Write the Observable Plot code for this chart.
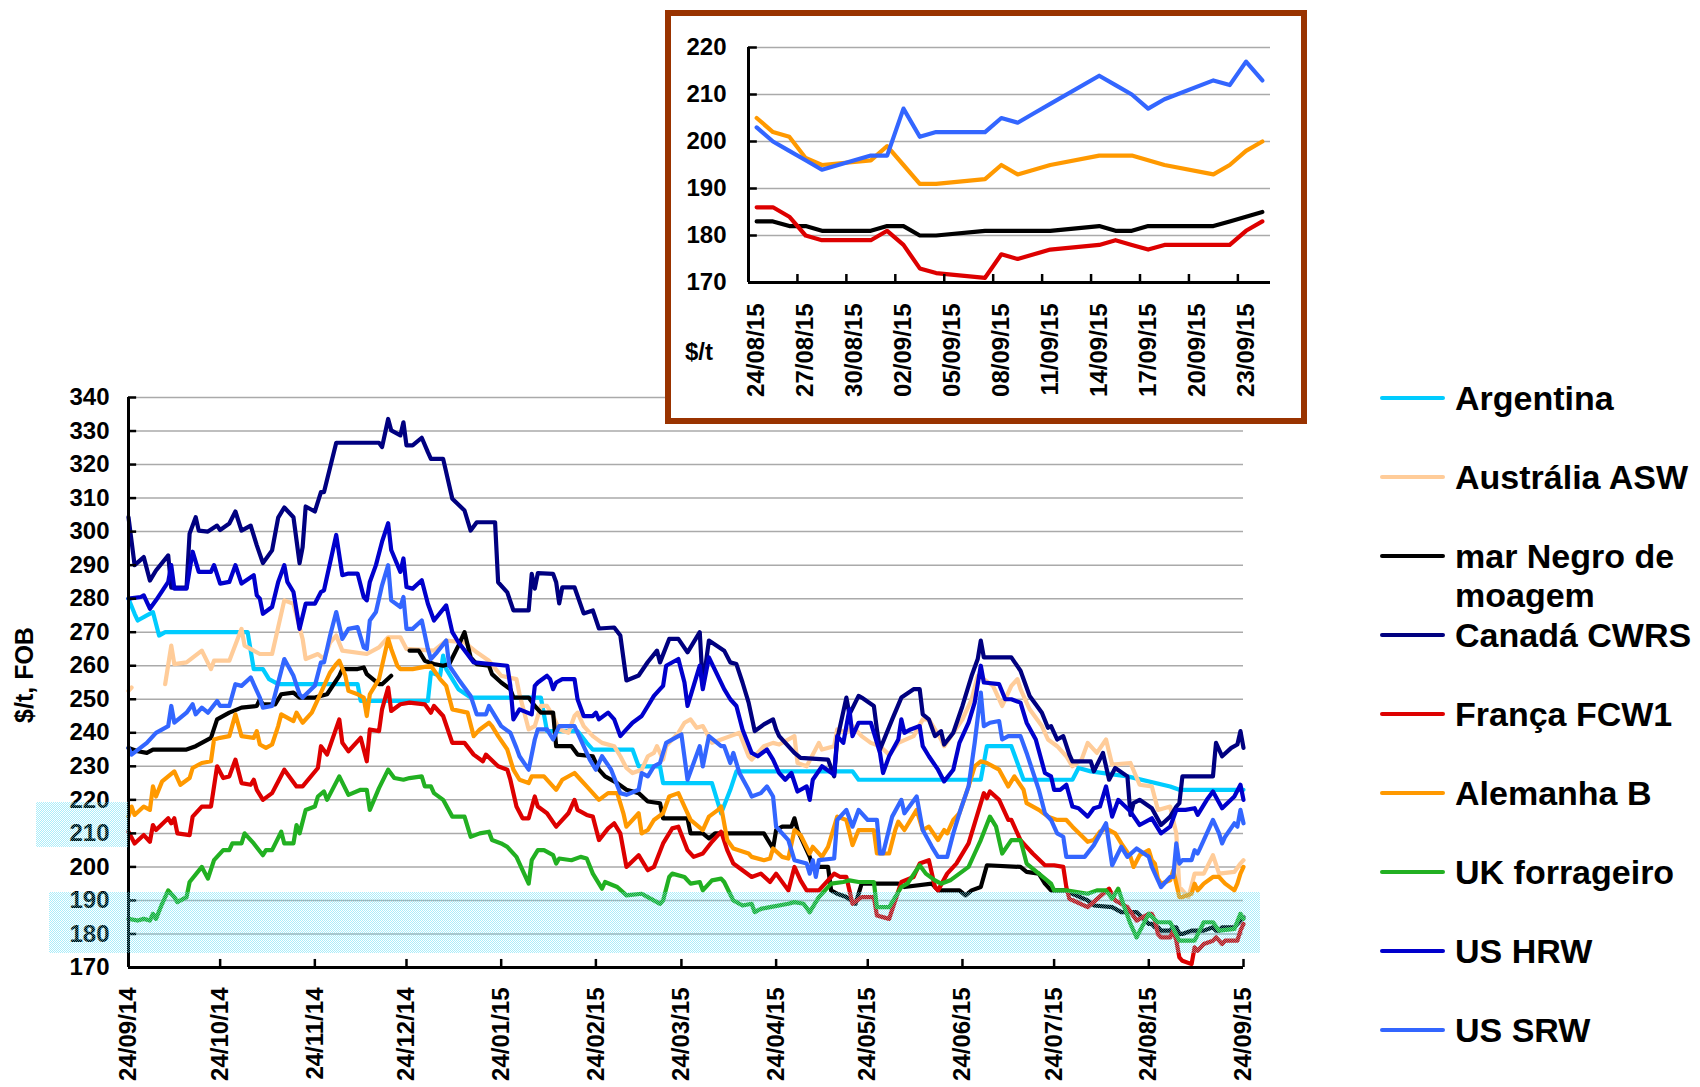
<!DOCTYPE html>
<html lang="pt">
<head>
<meta charset="utf-8">
<script src="https://cdn.jsdelivr.net/npm/d3@7"></script>
<script src="https://cdn.jsdelivr.net/npm/@observablehq/plot@0.6"></script>
<style>
html,body{margin:0;padding:0;background:#fff;}
#page{position:relative;width:1700px;height:1087px;overflow:hidden;background:#fff;font-family:"Liberation Sans",Arial,Helvetica,sans-serif;font-weight:bold;color:#000;}
#main{position:absolute;left:0;top:380px;}
#inset{position:absolute;left:665px;top:10px;width:642px;height:414px;box-sizing:border-box;border:6px solid #993300;background:#fff;}
#inset-plot{position:absolute;left:0;top:0;}
#inset-unit{position:absolute;left:14px;top:324px;font-size:24px;line-height:24px;white-space:nowrap;}
#ylab{position:absolute;left:24px;top:675px;width:0;height:0;}
#ylab span{position:absolute;left:0;top:0;display:block;font-size:25px;line-height:25px;white-space:nowrap;transform:translate(-50%,-50%) rotate(-90deg);}
#legend{position:absolute;left:1380px;top:378.5px;}
.item{position:relative;height:79px;width:320px;}
.item .swatch{position:absolute;left:0;top:17.5px;width:65px;height:4px;border-radius:2px;}
.item .label{position:absolute;left:75px;top:0;font-size:34px;line-height:39px;white-space:pre;}
.band{position:absolute;pointer-events:none;background:repeating-conic-gradient(rgba(100,222,245,.55) 0 25%, transparent 0 50%) 0 0/2px 2px;}
</style>
</head>
<body>
<div id="page">
  <div id="main"></div>
  <div id="ylab"><span>$/t, FOB</span></div>
  <div id="inset"><div id="inset-plot"></div><div id="inset-unit">$/t</div></div>
  <div id="legend"></div>
  <div class="band" style="left:36px;top:802px;width:92px;height:45px;"></div>
  <div class="band" style="left:49px;top:892px;width:1211px;height:61px;"></div>
</div>
<script>
// ---------- series names & colours (legend order) ----------
const seriesNames = ["Argentina", "Austrália ASW", "mar Negro de\nmoagem", "Canadá CWRS", "França FCW1", "Alemanha B", "UK forrageiro", "US HRW", "US SRW"];
const seriesColors = ["#00CCFF", "#FFCC99", "#000000", "#000080", "#DD0000", "#FF9900", "#22B022", "#0000CC", "#3366FF"];

// ---------- axis ticks ----------
const mainYTicks = [170,180,190,200,210,220,230,240,250,260,270,280,290,300,310,320,330,340];
const mainXTickLabels = ["24/09/14","24/10/14","24/11/14","24/12/14","24/01/15","24/02/15","24/03/15","24/04/15","24/05/15","24/06/15","24/07/15","24/08/15","24/09/15"];
const insetYTicks = [170,180,190,200,210,220];
const insetXTickLabels = ["24/08/15","27/08/15","30/08/15","02/09/15","05/09/15","08/09/15","11/09/15","14/09/15","17/09/15","20/09/15","23/09/15"];

// ---------- main chart data ($/t FOB) ----------
const argentina = [["24/09/14",280],["26/09/14",275.5],["27/09/14",273.5],["30/09/14",275],["02/10/14",276],["04/10/14",269],["06/10/14",270],["02/11/14",270],["04/11/14",259],["07/11/14",259],["09/11/14",256],["12/11/14",254.5],["08/12/14",254.5],["09/12/14",249.5],["31/12/14",249.5],["01/01/15",258],["04/01/15",257],["05/01/15",263],["06/01/15",259],["10/01/15",253],["14/01/15",250.5],["06/02/15",250.5],["08/02/15",240.5],["18/02/15",240.5],["21/02/15",237],["23/02/15",235],["08/03/15",235],["10/03/15",230],["17/03/15",230],["18/03/15",225],["03/04/15",225],["06/04/15",216],["09/04/15",223],["11/04/15",228.5],["19/05/15",228.5],["21/05/15",226],["30/06/15",226],["02/07/15",236],["10/07/15",236],["14/07/15",226],["30/07/15",226],["01/08/15",229.5],["05/08/15",228.5],["17/08/15",227],["31/08/15",224],["03/09/15",223],["24/09/15",223]];

const australiaASW = [["24/09/14",252.5],["25/09/14",253.5],["26/09/14",null],["06/10/14",254.5],["08/10/14",266],["09/10/14",260.5],["13/10/14",261],["18/10/14",264.5],["21/10/14",259],["22/10/14",261.5],["27/10/14",261.5],["31/10/14",271],["01/11/14",266],["06/11/14",263.5],["10/11/14",263.5],["14/11/14",279.5],["17/11/14",278.5],["20/11/14",268],["21/11/14",262],["25/11/14",263.5],["27/11/14",262],["29/11/14",267],["01/12/14",269],["03/12/14",264.5],["11/12/14",263.5],["15/12/14",265.5],["18/12/14",268.5],["22/12/14",268.5],["24/12/14",265],["02/01/15",264.5],["06/01/15",267.5],["12/01/15",267],["16/01/15",264],["20/01/15",261.5],["24/01/15",257],["29/01/15",256],["30/01/15",251.5],["02/02/15",241],["04/02/15",242],["06/02/15",248],["08/02/15",248],["10/02/15",245],["12/02/15",241],["15/02/15",240],["17/02/15",245],["18/02/15",246],["20/02/15",242],["23/02/15",239],["26/02/15",237],["02/03/15",236],["04/03/15",233],["06/03/15",229.5],["08/03/15",228],["11/03/15",229],["13/03/15",233],["15/03/15",234],["16/03/15",236],["18/03/15",232],["19/03/15",236],["23/03/15",240],["25/03/15",243],["27/03/15",244],["29/03/15",241.5],["31/03/15",242],["03/04/15",237],["06/04/15",238],["09/04/15",239],["12/04/15",240],["15/04/15",233],["16/04/15",232],["20/04/15",236],["23/04/15",237],["25/04/15",236.5],["30/04/15",239],["01/05/15",231],["04/05/15",230],["08/05/15",237],["09/05/15",235],["13/05/15",236],["14/05/15",241],["17/05/15",240],["19/05/15",242],["22/05/15",239],["25/05/15",237],["28/05/15",236],["31/05/15",233.5],["03/06/15",237],["08/06/15",239],["11/06/15",244],["13/06/15",244],["17/06/15",238],["18/06/15",236],["21/06/15",240],["24/06/15",244],["27/06/15",250],["29/06/15",257],["01/07/15",256],["04/07/15",254],["07/07/15",248],["10/07/15",254],["12/07/15",256],["13/07/15",253],["16/07/15",247],["20/07/15",242],["22/07/15",238],["25/07/15",236],["28/07/15",233],["30/07/15",230],["02/08/15",232],["04/08/15",237],["07/08/15",234],["10/08/15",238],["12/08/15",230.5],["18/08/15",231],["21/08/15",224.5],["25/08/15",224],["27/08/15",217],["31/08/15",218],["02/09/15",210],["03/09/15",194],["06/09/15",191],["08/09/15",198],["11/09/15",198],["14/09/15",203.5],["16/09/15",198],["21/09/15",198.5],["23/09/15",201],["24/09/15",202]];

const marNegro = [["24/09/14",235.5],["27/09/14",234.5],["30/09/14",234],["02/10/14",235],["13/10/14",235],["16/10/14",236],["21/10/14",238.5],["23/10/14",244],["27/10/14",246],["31/10/14",247.5],["05/11/14",248],["06/11/14",250],["07/11/14",248.5],["11/11/14",248.5],["13/11/14",251.5],["17/11/14",252],["19/11/14",250.5],["24/11/14",250.5],["28/11/14",251.5],["02/12/14",257],["03/12/14",259],["08/12/14",259],["10/12/14",259.5],["11/12/14",257.5],["15/12/14",254.5],["16/12/14",254.5],["19/12/14",257],["20/12/14",null],["25/12/14",264.5],["28/12/14",264.5],["30/12/14",261.5],["02/01/15",260.5],["05/01/15",260],["07/01/15",260.5],["10/01/15",266],["12/01/15",270],["14/01/15",262.5],["16/01/15",260.5],["20/01/15",260],["21/01/15",257.5],["24/01/15",255],["27/01/15",253],["28/01/15",250.5],["02/02/15",250.5],["04/02/15",248],["06/02/15",246],["10/02/15",246],["11/02/15",236],["16/02/15",236],["18/02/15",233.5],["23/02/15",233],["25/02/15",229],["27/02/15",227],["03/03/15",225],["06/03/15",223],["10/03/15",222],["13/03/15",219.5],["17/03/15",219],["18/03/15",214.5],["26/03/15",214.5],["27/03/15",210],["31/03/15",210],["02/04/15",208.5],["04/04/15",210],["20/04/15",210],["23/04/15",205.5],["24/04/15",211],["26/04/15",212],["29/04/15",212],["30/04/15",214.5],["01/05/15",211],["05/05/15",203],["06/05/15",200],["11/05/15",200],["12/05/15",193],["14/05/15",192],["17/05/15",191],["20/05/15",189],["22/05/15",195],["03/06/15",195],["05/06/15",194],["14/06/15",195],["16/06/15",193],["23/06/15",193],["25/06/15",191.5],["27/06/15",193],["30/06/15",194],["02/07/15",200.5],["13/07/15",200],["15/07/15",198.5],["19/07/15",198],["21/07/15",195],["23/07/15",193],["28/07/15",193],["30/07/15",192],["04/08/15",190],["06/08/15",188.5],["12/08/15",188],["15/08/15",186.5],["20/08/15",186.5]];

const canadaCWRS = [["24/09/14",304.3],["26/09/14",290],["29/09/14",292.4],["01/10/14",285.4],["03/10/14",288.4],["07/10/14",292.9],["08/10/14",283.3],["13/10/14",283.3],["14/10/14",299.4],["16/10/14",304.3],["17/10/14",300.3],["20/10/14",300],["23/10/14",301.8],["24/10/14",300.5],["27/10/14",302.4],["29/10/14",306],["31/10/14",300.3],["03/11/14",301.8],["05/11/14",295.9],["07/11/14",290.6],["10/11/14",294.4],["12/11/14",304.2],["14/11/14",307.2],["17/11/14",304.3],["19/11/14",290.6],["20/11/14",295.4],["21/11/14",307.5],["24/11/14",306],["26/11/14",311.8],["27/11/14",311.8],["01/12/14",326.5],["15/12/14",326.5],["16/12/14",325.2],["18/12/14",333.6],["19/12/14",330.2],["22/12/14",328.7],["23/12/14",332.6],["24/12/14",325.7],["26/12/14",325.7],["29/12/14",328],["31/12/14",323.7],["01/01/15",321.7],["05/01/15",321.7],["08/01/15",309.8],["12/01/15",306.3],["14/01/15",300.3],["16/01/15",302.8],["22/01/15",302.8],["23/01/15",284.9],["26/01/15",281.9],["28/01/15",276.5],["02/02/15",276.5],["03/02/15",287.4],["04/02/15",283],["05/02/15",287.6],["10/02/15",287.4],["11/02/15",284.9],["12/02/15",278.6],["13/02/15",283.4],["17/02/15",283.4],["20/02/15",275.6],["23/02/15",276.5],["25/02/15",271.1],["02/03/15",271.4],["04/03/15",269],["06/03/15",255.6],["10/03/15",257.1],["13/03/15",261.1],["16/03/15",264.5],["17/03/15",261],["20/03/15",268],["23/03/15",268],["26/03/15",264],["30/03/15",270],["31/03/15",254],["02/04/15",267.5],["07/04/15",264.5],["09/04/15",261],["11/04/15",260.5],["13/04/15",255],["15/04/15",249],["17/04/15",240.5],["20/04/15",242.5],["23/04/15",244],["24/04/15",241],["25/04/15",239],["30/04/15",234],["02/05/15",232.5],["11/05/15",232],["13/05/15",227],["14/05/15",238],["17/05/15",250.5],["18/05/15",245.5],["21/05/15",251],["22/05/15",250.5],["26/05/15",248],["27/05/15",241],["28/05/15",235],["01/06/15",244],["04/06/15",250.5],["08/06/15",253],["10/06/15",253],["11/06/15",245.5],["13/06/15",244],["15/06/15",239],["17/06/15",240.5],["18/06/15",236.5],["21/06/15",240],["24/06/15",248],["27/06/15",257],["29/06/15",262],["30/06/15",267.5],["01/07/15",262.5],["10/07/15",262.5],["13/07/15",258.5],["16/07/15",251],["20/07/15",246],["22/07/15",241.5],["23/07/15",242],["25/07/15",238],["27/07/15",239],["29/07/15",233.5],["30/07/15",231.5],["05/08/15",231.5],["06/08/15",228.5],["09/08/15",234],["11/08/15",226],["13/08/15",229.5],["17/08/15",227],["18/08/15",215.5],["19/08/15",219],["21/08/15",220],["25/08/15",217.5],["28/08/15",212.5],["31/08/15",215],["02/09/15",218],["03/09/15",219],["04/09/15",227],["14/09/15",227],["15/09/15",237],["17/09/15",233],["20/09/15",235.5],["22/09/15",236.5],["23/09/15",240.5],["24/09/15",235.5]];

const francaFCW1 = [["24/09/14",210.5],["26/09/14",207],["29/09/14",209.5],["01/10/14",207.5],["02/10/14",212.5],["03/10/14",211],["07/10/14",214.5],["08/10/14",213],["09/10/14",214.5],["10/10/14",210],["14/10/14",209.5],["15/10/14",215],["18/10/14",218],["21/10/14",218],["23/10/14",230],["25/10/14",226.5],["27/10/14",227],["29/10/14",232],["31/10/14",225],["03/11/14",224.5],["04/11/14",226],["05/11/14",223],["07/11/14",220],["10/11/14",222],["12/11/14",225.5],["14/11/14",229],["18/11/14",224],["20/11/14",224],["25/11/14",229.5],["26/11/14",236],["28/11/14",233.5],["02/12/14",244],["03/12/14",237],["05/12/14",234.5],["09/12/14",238.5],["11/12/14",231.5],["12/12/14",241],["15/12/14",240.5],["16/12/14",247],["18/12/14",253.5],["19/12/14",246.5],["22/12/14",248.5],["25/12/14",249],["30/12/14",248.5],["01/01/15",246],["02/01/15",248],["05/01/15",245],["08/01/15",237],["12/01/15",237],["15/01/15",233.5],["18/01/15",231.5],["19/01/15",233.5],["23/01/15",230],["26/01/15",229],["27/01/15",226],["29/01/15",218],["31/01/15",214.5],["02/02/15",214.5],["04/02/15",221],["05/02/15",218],["08/02/15",216],["11/02/15",212],["15/02/15",216],["17/02/15",220],["18/02/15",217],["21/02/15",215.5],["23/02/15",215],["25/02/15",208],["28/02/15",211.5],["02/03/15",213],["04/03/15",210],["06/03/15",200],["10/03/15",203.5],["13/03/15",199],["15/03/15",200],["18/03/15",207],["21/03/15",211.5],["23/03/15",212],["26/03/15",205],["28/03/15",203],["31/03/15",204],["03/04/15",207.5],["06/04/15",210.5],["08/04/15",205],["10/04/15",201],["13/04/15",199],["16/04/15",197],["19/04/15",198],["22/04/15",195.5],["24/04/15",198],["28/04/15",193],["30/04/15",200],["02/05/15",196],["04/05/15",193],["08/05/15",193],["13/05/15",198],["15/05/15",197],["17/05/15",197],["19/05/15",189],["22/05/15",191],["26/05/15",191],["27/05/15",185.5],["31/05/15",184.5],["04/06/15",195.5],["08/06/15",197],["10/06/15",201],["13/06/15",202],["15/06/15",194],["16/06/15",193],["19/06/15",198],["22/06/15",201],["26/06/15",207],["28/06/15",213],["01/07/15",222],["02/07/15",220.5],["03/07/15",222.5],["06/07/15",220],["09/07/15",214],["10/07/15",214],["13/07/15",208],["15/07/15",206],["17/07/15",204],["21/07/15",200.5],["24/07/15",200.5],["27/07/15",200],["28/07/15",194],["29/07/15",190.5],["04/08/15",188],["11/08/15",193.5],["13/08/15",190],["17/08/15",188],["20/08/15",184]];

const alemanhaB = [["24/09/14",215],["25/09/14",218],["26/09/14",215.5],["29/09/14",218],["01/10/14",217],["02/10/14",224],["03/10/14",221],["05/10/14",225.5],["09/10/14",228.5],["11/10/14",224.5],["14/10/14",226.5],["15/10/14",229.5],["18/10/14",231],["21/10/14",231.5],["22/10/14",238],["24/10/14",238.5],["27/10/14",239],["29/10/14",245.5],["31/10/14",239],["04/11/14",238.5],["05/11/14",240.5],["06/11/14",236.5],["08/11/14",235.5],["10/11/14",236.5],["12/11/14",242],["13/11/14",245.5],["17/11/14",243.5],["18/11/14",246],["20/11/14",243],["23/11/14",246],["25/11/14",250],["27/11/14",254],["29/11/14",258],["01/12/14",260.5],["02/12/14",261.5],["04/12/14",257],["05/12/14",252.5],["08/12/14",251.5],["10/12/14",250.5],["11/12/14",245],["12/12/14",251.5],["15/12/14",256],["18/12/14",268],["19/12/14",265],["21/12/14",260],["22/12/14",259],["26/12/14",259],["29/12/14",259.5],["01/01/15",260],["04/01/15",256],["06/01/15",254],["08/01/15",247],["13/01/15",246],["15/01/15",239],["17/01/15",241],["20/01/15",243],["21/01/15",242],["23/01/15",239],["26/01/15",235],["28/01/15",229],["30/01/15",226],["02/02/15",225],["03/02/15",227],["07/02/15",227],["09/02/15",225],["11/02/15",223],["13/02/15",226],["17/02/15",228],["19/02/15",226],["21/02/15",224],["25/02/15",220],["28/02/15",222],["03/03/15",222],["05/03/15",216],["06/03/15",212],["10/03/15",216],["11/03/15",210],["13/03/15",211],["15/03/15",214],["18/03/15",216],["20/03/15",221],["23/03/15",222],["25/03/15",218],["27/03/15",214],["31/03/15",211],["02/04/15",215],["05/04/15",217],["06/04/15",218],["08/04/15",208],["10/04/15",205.5],["15/04/15",204],["16/04/15",203],["20/04/15",202],["22/04/15",202.5],["23/04/15",205.5],["26/04/15",203],["28/04/15",202.5],["30/04/15",211],["02/05/15",209.5],["05/05/15",204],["06/05/15",206],["09/05/15",203],["11/05/15",206],["14/05/15",215],["17/05/15",214],["19/05/15",206.5],["21/05/15",211],["26/05/15",211],["27/05/15",204],["31/05/15",204],["02/06/15",211],["03/06/15",213.5],["05/06/15",211],["09/06/15",217],["11/06/15",211],["13/06/15",212],["16/06/15",208],["18/06/15",211],["19/06/15",210],["21/06/15",214],["23/06/15",216],["26/06/15",224],["28/06/15",230],["30/06/15",231.5],["02/07/15",231],["04/07/15",230],["06/07/15",229],["09/07/15",224],["11/07/15",227],["14/07/15",223],["15/07/15",219],["19/07/15",217],["22/07/15",215],["25/07/15",214],["28/07/15",214],["30/07/15",212],["04/08/15",207.5],["06/08/15",208],["08/08/15",210.5],["10/08/15",211.5],["13/08/15",210],["15/08/15",207],["18/08/15",203],["19/08/15",200],["21/08/15",203.5]];

const ukForrageiro = [["24/09/14",184.5],["27/09/14",184],["29/09/14",184.5],["01/10/14",184],["02/10/14",186],["03/10/14",184.5],["05/10/14",189],["07/10/14",193],["09/10/14",191],["10/10/14",189.5],["13/10/14",191],["14/10/14",195.5],["18/10/14",200],["20/10/14",196.5],["22/10/14",202],["25/10/14",205],["27/10/14",205],["28/10/14",207],["31/10/14",207],["01/11/14",210],["04/11/14",207],["07/11/14",203.5],["08/11/14",205],["10/11/14",205],["13/11/14",210.5],["14/11/14",207],["17/11/14",207],["18/11/14",212.5],["19/11/14",210],["21/11/14",217],["24/11/14",218],["25/11/14",221],["27/11/14",222.5],["28/11/14",220],["02/12/14",227],["05/12/14",221.5],["09/12/14",223],["11/12/14",223],["12/12/14",217],["15/12/14",223.5],["18/12/14",229],["20/12/14",226.5],["23/12/14",226],["25/12/14",226.5],["29/12/14",227],["30/12/14",224],["01/01/15",224],["02/01/15",222],["05/01/15",220],["08/01/15",215],["12/01/15",215],["14/01/15",209],["17/01/15",210],["20/01/15",210.5],["21/01/15",208],["24/01/15",207],["26/01/15",206],["29/01/15",203],["02/02/15",195],["03/02/15",202],["05/02/15",205],["07/02/15",205],["10/02/15",203.5],["11/02/15",201],["12/02/15",202.5],["16/02/15",202],["19/02/15",203],["21/02/15",202.5],["23/02/15",198],["26/02/15",193.5],["27/02/15",195.5],["03/03/15",194],["06/03/15",191.5],["11/03/15",192],["13/03/15",191],["17/03/15",189],["18/03/15",190],["20/03/15",197],["21/03/15",198],["25/03/15",197],["27/03/15",195],["30/03/15",195.5],["31/03/15",193],["03/04/15",196],["06/04/15",196.5],["07/04/15",195.5],["10/04/15",190],["13/04/15",188.5],["16/04/15",189],["17/04/15",186.5],["19/04/15",187.5],["22/04/15",188],["28/04/15",189],["30/04/15",189.5],["03/05/15",189],["05/05/15",186.5],["08/05/15",191],["10/05/15",193],["12/05/15",195],["16/05/15",195.5],["18/05/15",196],["21/05/15",195.5],["26/05/15",195.5],["27/05/15",188],["31/05/15",188],["04/06/15",194],["06/06/15",195],["10/06/15",200.5],["12/06/15",198],["15/06/15",196],["17/06/15",195],["20/06/15",196],["26/06/15",200],["28/06/15",204],["30/06/15",208],["03/07/15",215],["05/07/15",212],["07/07/15",204],["10/07/15",208],["13/07/15",208],["15/07/15",201],["19/07/15",198],["23/07/15",195],["24/07/15",193],["28/07/15",193],["04/08/15",192],["07/08/15",193],["10/08/15",193],["12/08/15",190.5],["14/08/15",193.5],["16/08/15",188],["18/08/15",183],["20/08/15",179],["24/08/15",186],["27/08/15",183.5],["31/08/15",183.5],["03/09/15",178],["08/09/15",178],["11/09/15",183.5],["14/09/15",183.5],["16/09/15",181],["21/09/15",181.5],["23/09/15",186],["24/09/15",184.5]];

const usHRW = [["24/09/14",280],["28/09/14",280.5],["29/09/14",281],["01/10/14",277],["03/10/14",279.5],["07/10/14",285],["08/10/14",290],["09/10/14",283],["13/10/14",283],["15/10/14",294],["17/10/14",288],["21/10/14",288],["22/10/14",290],["24/10/14",284.5],["27/10/14",285],["29/10/14",290],["31/10/14",284.5],["04/11/14",287],["05/11/14",281],["06/11/14",280],["07/11/14",275.5],["10/11/14",277.5],["12/11/14",285],["14/11/14",290],["15/11/14",285],["17/11/14",282],["19/11/14",271],["21/11/14",278.5],["24/11/14",278.5],["26/11/14",282],["27/11/14",282.5],["01/12/14",299],["03/12/14",287],["05/12/14",287.5],["08/12/14",287.5],["10/12/14",280.5],["11/12/14",279.5],["12/12/14",285],["14/12/14",290],["16/12/14",297],["18/12/14",302.5],["19/12/14",294.5],["22/12/14",288],["23/12/14",292],["24/12/14",283.5],["26/12/14",283],["29/12/14",285.5],["31/12/14",278.5],["02/01/15",273.5],["06/01/15",278],["08/01/15",270],["10/01/15",267],["15/01/15",261],["26/01/15",260],["27/01/15",254],["28/01/15",244],["30/01/15",247],["03/02/15",245.5],["04/02/15",254],["05/02/15",255],["08/02/15",257],["09/02/15",256],["10/02/15",253],["11/02/15",255],["13/02/15",256],["17/02/15",256],["18/02/15",250],["20/02/15",245],["23/02/15",245],["24/02/15",246],["25/02/15",244],["28/02/15",246],["02/03/15",244],["04/03/15",239],["06/03/15",241],["08/03/15",243],["11/03/15",245],["13/03/15",248],["15/03/15",251],["17/03/15",253],["18/03/15",254],["19/03/15",260],["23/03/15",262],["25/03/15",255],["26/03/15",248],["30/03/15",260],["31/03/15",253],["02/04/15",262.5],["07/04/15",253],["09/04/15",250],["11/04/15",248],["13/04/15",241],["16/04/15",234],["18/04/15",233],["21/04/15",235],["23/04/15",232],["25/04/15",228],["27/04/15",226],["29/04/15",228],["01/05/15",222.5],["04/05/15",224],["05/05/15",220],["06/05/15",226],["09/05/15",230],["13/05/15",227.5],["14/05/15",239],["16/05/15",237],["18/05/15",247],["19/05/15",239],["21/05/15",243],["25/05/15",243],["28/05/15",234],["29/05/15",228],["31/05/15",233],["03/06/15",238],["04/06/15",244],["05/06/15",240],["07/06/15",241],["10/06/15",242],["11/06/15",236],["13/06/15",233],["16/06/15",229],["18/06/15",225.5],["21/06/15",229],["23/06/15",237],["26/06/15",243],["28/06/15",249],["30/06/15",260],["01/07/15",255],["06/07/15",254.5],["08/07/15",250],["10/07/15",250],["13/07/15",249],["15/07/15",243],["18/07/15",238],["21/07/15",228],["23/07/15",227],["24/07/15",223],["26/07/15",223],["28/07/15",224.5],["30/07/15",218],["01/08/15",217.5],["04/08/15",215],["06/08/15",217.5],["08/08/15",218],["10/08/15",224],["12/08/15",215],["14/08/15",220],["18/08/15",216.5],["21/08/15",212.5],["25/08/15",214.5],["28/08/15",210],["31/08/15",212],["02/09/15",217],["05/09/15",217],["08/09/15",217.5],["09/09/15",215.5],["12/09/15",220],["14/09/15",222.5],["17/09/15",217.5],["21/09/15",221],["23/09/15",224.5],["24/09/15",220]];

const usSRW = [["24/09/14",235.5],["25/09/14",233.5],["30/09/14",237],["03/10/14",240],["07/10/14",242],["08/10/14",248],["09/10/14",243],["13/10/14",246],["15/10/14",248.5],["16/10/14",245.5],["18/10/14",247.5],["20/10/14",246],["23/10/14",249.5],["24/10/14",248],["27/10/14",248],["29/10/14",254.5],["31/10/14",254],["03/11/14",256.5],["06/11/14",250.5],["07/11/14",247.5],["10/11/14",248],["12/11/14",255],["14/11/14",262],["17/11/14",257],["19/11/14",251.5],["20/11/14",250.5],["24/11/14",254],["26/11/14",261],["27/11/14",261],["29/11/14",269],["01/12/14",276],["03/12/14",268],["05/12/14",271],["08/12/14",271.5],["10/12/14",265.5],["11/12/14",265],["12/12/14",273.5],["14/12/14",276],["16/12/14",284],["18/12/14",290],["19/12/14",279.5],["22/12/14",277.5],["23/12/14",280.5],["24/12/14",271],["26/12/14",271],["29/12/14",273.5],["31/12/14",265],["01/01/15",262],["03/01/15",264],["06/01/15",267.5],["07/01/15",260],["10/01/15",256],["14/01/15",251],["16/01/15",245.5],["19/01/15",245.5],["20/01/15",248],["24/01/15",242],["27/01/15",240],["29/01/15",235.5],["30/01/15",233],["02/02/15",229],["04/02/15",238],["05/02/15",241],["08/02/15",241],["10/02/15",238],["12/02/15",242],["17/02/15",242],["19/02/15",238],["22/02/15",232],["24/02/15",229],["26/02/15",233],["01/03/15",229],["04/03/15",222],["06/03/15",221.5],["10/03/15",223],["11/03/15",228],["13/03/15",227],["15/03/15",230],["17/03/15",231],["19/03/15",237],["23/03/15",239],["24/03/15",239.5],["26/03/15",226],["30/03/15",236],["31/03/15",230],["02/04/15",239],["06/04/15",236],["07/04/15",236],["09/04/15",231],["10/04/15",234],["12/04/15",228],["15/04/15",223],["16/04/15",221],["19/04/15",222],["21/04/15",224],["23/04/15",221],["24/04/15",212],["28/04/15",208],["30/04/15",202],["04/05/15",201],["05/05/15",198],["06/05/15",202],["07/05/15",197],["08/05/15",202],["13/05/15",202.5],["14/05/15",214],["17/05/15",217],["19/05/15",212],["21/05/15",217],["24/05/15",214],["27/05/15",214],["28/05/15",204],["29/05/15",204],["01/06/15",215],["04/06/15",220],["05/06/15",216],["09/06/15",221],["11/06/15",211],["14/06/15",206],["16/06/15",203],["19/06/15",203],["21/06/15",210],["23/06/15",216],["26/06/15",224],["28/06/15",237],["30/06/15",252],["01/07/15",242],["03/07/15",243],["06/07/15",243.5],["07/07/15",238],["09/07/15",239],["13/07/15",239],["15/07/15",234],["19/07/15",223],["21/07/15",216],["23/07/15",214],["25/07/15",210],["27/07/15",209],["28/07/15",203],["03/08/15",203],["06/08/15",206.5],["10/08/15",213],["12/08/15",200.5],["15/08/15",206],["17/08/15",203],["20/08/15",205.5]];

// ---------- inset data (24/08/15 - 24/09/15, working days) ----------
const insetDates = ["24/08/15","25/08/15","26/08/15","27/08/15","28/08/15","31/08/15","01/09/15","02/09/15","03/09/15","04/09/15","07/09/15","08/09/15","09/09/15","10/09/15","11/09/15","14/09/15","15/09/15","16/09/15","17/09/15","18/09/15","21/09/15","22/09/15","23/09/15","24/09/15"];
const insetSRW       = [203,200,198,196,194,197,197,207,201,202,202,205,204,206,208,214,212,210,207,209,213,212,217,213];
const insetAlemanha  = [205,202,201,196.5,195,196,199,195,191,191,192,195,193,194,195,197,197,197,196,195,193,195,198,200];
const insetMarNegro  = [183,183,182,182,181,181,182,182,180,180,181,181,181,181,181,182,181,181,182,182,182,183,184,185];
const insetFranca    = [186,186,184,180,179,179,181,178,173,172,171,176,175,176,177,178,179,178,177,178,178,178,181,183];

// ---------- build ----------
const parse = d3.utcParse("%d/%m/%y");
const fmt = d3.utcFormat("%d/%m/%y");
const toRows = arr => arr.map(([d, v]) => ({date: parse(d), value: v == null ? NaN : v}));
const withInset = (arr, vals) => arr.concat(insetDates.map((d, i) => [d, vals[i]]));

const mainSeries = [
  argentina,
  australiaASW,
  withInset(marNegro, insetMarNegro),
  canadaCWRS,
  withInset(francaFCW1, insetFranca),
  withInset(alemanhaB, insetAlemanha),
  ukForrageiro,
  usHRW,
  withInset(usSRW, insetSRW)
];

const fontStyle = "font-family:'Liberation Sans',Arial,Helvetica,sans-serif;font-weight:bold;font-size:24px;background:transparent;overflow:visible;";

// main chart
const xStart = parse(mainXTickLabels[0]);
const xEnd = parse(mainXTickLabels[mainXTickLabels.length - 1]);
const xTickDates = mainXTickLabels.map(parse);
const yMin = mainYTicks[0], yMax = mainYTicks[mainYTicks.length - 1];

const mainPlot = Plot.plot({
  width: 1260, height: 707,
  marginLeft: 128, marginRight: 17, marginTop: 17, marginBottom: 120,
  style: fontStyle,
  x: {type: "utc", domain: [xStart, xEnd]},
  y: {domain: [yMin, yMax]},
  marks: [
    Plot.ruleY(mainYTicks.filter(v => v > yMin), {stroke: "#aaaaaa", strokeWidth: 1.5}),
    ...mainSeries.map((s, i) => Plot.line(toRows(s), {x: "date", y: "value", stroke: seriesColors[i], strokeWidth: 4.2})),
    Plot.ruleY([yMin], {stroke: "#000", strokeWidth: 3}),
    Plot.ruleX([xStart], {y1: yMin, y2: yMax, stroke: "#000", strokeWidth: 3}),
    Plot.ruleX(xTickDates, {y1: yMin, y2: yMin + 2.4, stroke: "#000", strokeWidth: 2.5}),
    Plot.ruleY(mainYTicks, {x1: () => xStart, x2: () => d3.utcHour.offset(xStart, 64), stroke: "#000", strokeWidth: 2.5}),
    Plot.axisY({ticks: mainYTicks, tickSize: 0, tickPadding: 19, tickFormat: d => String(d), label: null, fontSize: 24, fontWeight: "bold"}),
    Plot.axisX({ticks: xTickDates, tickFormat: fmt, tickRotate: -90, tickSize: 0, tickPadding: 20, label: null, fontSize: 24, fontWeight: "bold"})
  ]
});
document.getElementById("main").appendChild(mainPlot);

// inset chart
const insetTickDates = insetXTickLabels.map(parse);
const iStart = d3.utcHour.offset(parse(insetDates[0]), -12);
const iEnd = d3.utcHour.offset(parse(insetDates[insetDates.length - 1]), 12);
const iyMin = insetYTicks[0], iyMax = insetYTicks[insetYTicks.length - 1];
const insetSeries = [
  {vals: insetMarNegro, color: seriesColors[2]},
  {vals: insetFranca, color: seriesColors[4]},
  {vals: insetAlemanha, color: seriesColors[5]},
  {vals: insetSRW, color: seriesColors[8]}
];

const insetPlot = Plot.plot({
  width: 630, height: 402,
  marginLeft: 77, marginRight: 31, marginTop: 31, marginBottom: 136,
  style: fontStyle,
  x: {type: "utc", domain: [iStart, iEnd]},
  y: {domain: [iyMin, iyMax]},
  marks: [
    Plot.ruleY(insetYTicks.filter(v => v > iyMin), {stroke: "#aaaaaa", strokeWidth: 1.5}),
    ...insetSeries.map(s => Plot.line(insetDates.map((d, i) => ({date: parse(d), value: s.vals[i]})), {x: "date", y: "value", stroke: s.color, strokeWidth: 4.2})),
    Plot.ruleY([iyMin], {stroke: "#000", strokeWidth: 3}),
    Plot.ruleX([iStart], {y1: iyMin, y2: iyMax, stroke: "#000", strokeWidth: 3}),
    Plot.ruleX(insetTickDates.map(d => d3.utcHour.offset(d, -12)), {y1: iyMin, y2: iyMin + 1.7, stroke: "#000", strokeWidth: 2.5}),
    Plot.ruleY(insetYTicks, {x1: () => iStart, x2: () => d3.utcHour.offset(iStart, 13), stroke: "#000", strokeWidth: 2.5}),
    Plot.axisY({ticks: insetYTicks, tickSize: 0, tickPadding: 22, tickFormat: d => String(d), label: null, fontSize: 24, fontWeight: "bold"}),
    Plot.axisX({ticks: insetTickDates, tickFormat: fmt, tickRotate: -90, tickSize: 0, tickPadding: 21, label: null, fontSize: 24, fontWeight: "bold"})
  ]
});
document.getElementById("inset-plot").appendChild(insetPlot);

// legend
const legend = document.getElementById("legend");
seriesNames.forEach((name, i) => {
  const item = document.createElement("div");
  item.className = "item";
  const sw = document.createElement("div");
  sw.className = "swatch";
  sw.style.background = seriesColors[i];
  const lb = document.createElement("div");
  lb.className = "label";
  lb.textContent = name;
  item.appendChild(sw);
  item.appendChild(lb);
  legend.appendChild(item);
});
</script>
</body>
</html>
